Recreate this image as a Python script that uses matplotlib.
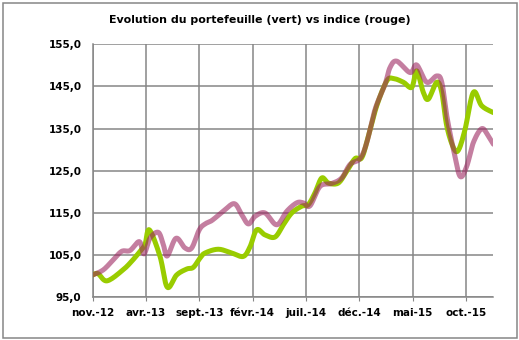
import matplotlib.pyplot as plt
from matplotlib.patches import Rectangle
import numpy as np

# months since nov. 2012
tick_months = [0, 5, 10, 15, 20, 25, 30, 35]
tick_labels = ["nov.-12", "avr.-13", "sept.-13", "févr.-14", "juil.-14", "déc.-14", "mai-15", "oct.-15"]

# portefeuille (vert)
vert_months = [0, 0.50, 1.34, 2.84, 3.78, 4.43, 4.90, 5.31, 6.31, 6.99, 7.87, 8.81, 9.43,
               10.06, 10.53, 11.77, 13.03, 14.12, 14.75, 15.37, 16.15, 17.09, 17.87, 18.66,
               19.59, 20.21, 20.84, 21.47, 22.09, 23.02, 23.81, 24.59, 25.22, 25.84, 26.62,
               27.56, 28.18, 29.12, 29.91, 30.37, 30.99, 31.46, 32.25, 32.72, 33.19, 33.81,
               34.28, 34.90, 35.68, 36.47, 37.56]
vert_vals = [100.3, 100.6, 98.9, 101.5, 103.9, 105.9, 107.5, 111.0, 104.7, 97.4, 100.3, 101.7, 102.1,
             104.3, 105.5, 106.4, 105.5, 104.7, 107.0, 111.0, 109.8, 109.3, 112.2, 115.0,
             116.6, 117.0, 119.8, 123.3, 122.1, 122.1, 124.9, 127.9, 128.1, 133.2, 140.4,
             146.3, 146.9, 146.0, 144.8, 148.7, 143.6, 142.0, 146.0, 143.6, 135.6, 130.5,
             129.9, 134.8, 143.6, 140.4, 138.8]

# indice (rouge)
rouge_months = [0, 0.99, 1.93, 2.72, 3.50, 4.37, 4.81, 5.37, 6.15, 6.62, 6.99, 7.81, 8.65, 9.28,
                9.99, 10.53, 11.16, 12.24, 13.27, 13.97, 14.59, 15.22, 16.15, 17.25, 18.19,
                19.12, 19.74, 20.37, 21.31, 22.41, 23.34, 24.12, 25.06, 25.69, 26.47, 27.40,
                27.87, 28.50, 29.75, 30.37, 31.31, 32.25, 32.72, 33.19, 33.81, 34.43, 35.06,
                35.68, 36.47, 37.09, 37.56]
rouge_vals = [100.3, 101.5, 103.9, 105.9, 106.1, 108.2, 105.3, 109.0, 110.4, 107.5, 104.8, 109.0, 106.7, 106.7,
              111.0, 112.4, 113.2, 115.4, 117.2, 114.6, 112.4, 114.2, 115.0, 112.2, 115.4,
              117.4, 117.4, 116.7, 121.3, 122.0, 123.3, 126.5, 127.9, 131.7, 139.6, 145.5,
              149.5, 151.0, 148.3, 150.1, 146.0, 147.5, 146.0, 138.0, 130.1, 123.7, 126.1,
              131.7, 135.0, 133.2, 131.3]


def smooth(xs, ys, n=12):
    # courbe lissée façon Excel (Catmull-Rom)
    x = np.asarray(xs, float)
    y = np.asarray(ys, float)
    px = np.concatenate([[x[0]], x, [x[-1]]])
    py = np.concatenate([[y[0]], y, [y[-1]]])
    outx, outy = [], []
    t = np.linspace(0, 1, n, endpoint=False)
    for i in range(1, len(px) - 2):
        p0, p1, p2, p3 = px[i - 1], px[i], px[i + 1], px[i + 2]
        q0, q1, q2, q3 = py[i - 1], py[i], py[i + 1], py[i + 2]
        b1x, b1y = p1 + (p2 - p0) / 6, q1 + (q2 - q0) / 6
        b2x, b2y = p2 - (p3 - p1) / 6, q2 - (q3 - q1) / 6
        outx.extend((1 - t) ** 3 * p1 + 3 * (1 - t) ** 2 * t * b1x + 3 * (1 - t) * t ** 2 * b2x + t ** 3 * p2)
        outy.extend((1 - t) ** 3 * q1 + 3 * (1 - t) ** 2 * t * b1y + 3 * (1 - t) * t ** 2 * b2y + t ** 3 * q2)
    outx.append(x[-1])
    outy.append(y[-1])
    return outx, outy


fig = plt.figure(figsize=(5.19, 3.40), dpi=100)
ax = fig.add_axes([0.1786, 0.1256, 0.7719, 0.7441])

gx, gy = smooth(vert_months, vert_vals)
rx, ry = smooth(rouge_months, rouge_vals)
ax.plot(gx, gy, color="#99cc00", lw=3.6, solid_capstyle="round", zorder=3)
ax.plot(rx, ry, color="#9d2861", alpha=0.6, lw=3.6, solid_capstyle="round", zorder=4)

ax.set_xlim(0, 37.55)
ax.set_ylim(95, 155)
ax.set_yticks(np.arange(95, 156, 10))
ax.set_yticklabels([f"{v:.1f}".replace(".", ",") for v in range(95, 156, 10)])
ax.set_xticks(tick_months)
ax.set_xticklabels(tick_labels)

ax.grid(True, color="#868686", lw=1.1)
ax.set_axisbelow(True)
for s in ["top", "right"]:
    ax.spines[s].set_visible(False)
for s in ["left", "bottom"]:
    ax.spines[s].set_color("#868686")
    ax.spines[s].set_linewidth(1.1)
ax.tick_params(axis="y", length=0, pad=8)
ax.tick_params(axis="x", length=3, color="#868686", pad=5)
for lab in ax.get_xticklabels() + ax.get_yticklabels():
    lab.set_fontweight("bold")
    lab.set_fontsize(7.5)

fig.text(0.5, 0.94, "Evolution du portefeuille (vert) vs indice (rouge)",
         ha="center", va="center", fontsize=7.9, fontweight="bold")

fig.patches.append(Rectangle((3 / 519, 2 / 340), 514 / 519, 335 / 340, transform=fig.transFigure,
                             fill=False, edgecolor="#868686", lw=1.1))

fig.savefig("out.png", dpi=100)
